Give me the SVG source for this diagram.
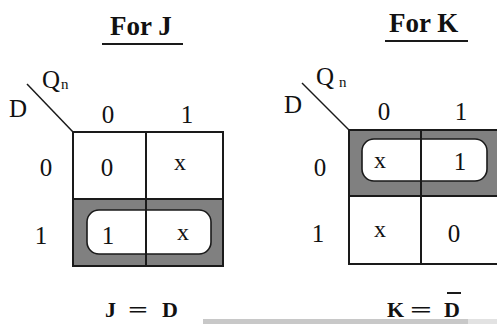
<svg xmlns="http://www.w3.org/2000/svg" width="497" height="324" viewBox="0 0 497 324">
<style>
text{font-family:"Liberation Serif","Times New Roman",serif;fill:#111;}
.lbl{font-size:25px;text-anchor:middle;}
.sm{font-size:24px;text-anchor:middle;}
.sub{font-size:15px;}
.ttl{font-size:27px;font-weight:bold;}
.eq{font-size:22px;font-weight:bold;}
.grid{stroke:#1a1a1a;stroke-width:2;fill:none;}
.shade{fill:#808080;}
.loop{fill:#fff;stroke:#1a1a1a;stroke-width:1.6;}
.ul{stroke:#1a1a1a;stroke-width:2;}
.diag{stroke:#1a1a1a;stroke-width:1.5;}
</style>
<rect width="497" height="324" fill="#fff"/>
<g id="title-j">
<text class="ttl" x="110" y="35">For J</text>
<line class="ul" x1="102" y1="44" x2="183" y2="44"/>
</g>
<g id="title-k">
<text class="ttl" x="389" y="32">For K</text>
<line class="ul" x1="385" y1="41" x2="468" y2="41"/>
</g>
<g id="map-j">
<rect class="shade" x="73" y="199" width="150" height="67"/>
<rect class="loop" x="87" y="210" width="124" height="44" rx="12"/>
<rect class="grid" x="73" y="132" width="150" height="134"/>
<line class="grid" x1="73" y1="199" x2="223" y2="199"/>
<line class="grid" x1="146" y1="132" x2="146" y2="266"/>
<text x="42" y="88" style="font-size:25px">Q</text>
<text class="sub" x="61" y="89">n</text>
<text x="9" y="117" style="font-size:25px">D</text>
<text class="lbl" x="108" y="123">0</text>
<text class="lbl" x="187" y="123">1</text>
<text class="lbl" x="46" y="176">0</text>
<text class="lbl" x="41" y="244">1</text>
<text class="lbl" x="107" y="176">0</text>
<text class="sm" x="180" y="170">x</text>
<text class="lbl" x="108" y="244">1</text>
<text class="sm" x="183" y="240">x</text>
</g>
<g id="map-k">
<rect class="shade" x="349" y="130" width="150" height="66"/>
<rect class="loop" x="362" y="139" width="125" height="42" rx="12"/>
<rect class="grid" x="349" y="130" width="152" height="134"/>
<line class="grid" x1="349" y1="196" x2="499" y2="196"/>
<line class="grid" x1="421" y1="130" x2="421" y2="264"/>
<text x="316" y="85" style="font-size:25px">Q</text>
<text class="sub" x="339" y="87">n</text>
<text x="284" y="113" style="font-size:25px">D</text>
<text class="lbl" x="384" y="120">0</text>
<text class="lbl" x="461" y="120">1</text>
<text class="lbl" x="320" y="176">0</text>
<text class="lbl" x="318" y="242">1</text>
<text class="sm" x="380" y="168">x</text>
<text class="lbl" x="460" y="170">1</text>
<text class="sm" x="380" y="237">x</text>
<text class="lbl" x="454" y="242">0</text>
</g>
<g id="connectors">
<line class="diag" x1="27" y1="84" x2="73" y2="132"/>
<line class="diag" x1="302" y1="83" x2="349" y2="130"/>
</g>
<g id="eq-j">
<text class="eq" y="317"><tspan x="105">J</tspan><tspan x="128" textLength="20" lengthAdjust="spacingAndGlyphs">=</tspan><tspan x="162">D</tspan></text>
</g>
<g id="eq-k">
<text class="eq" y="317"><tspan x="387">K</tspan><tspan x="410" textLength="22" lengthAdjust="spacingAndGlyphs">=</tspan><tspan x="444">D</tspan></text>
<line stroke="#1a1a1a" stroke-width="2" x1="447" y1="293" x2="461" y2="293"/>
</g>
<rect x="203" y="319" width="265" height="5" fill="#c8c8c8"/>
<rect x="468" y="319" width="29" height="5" fill="#e2e2e2"/>
</svg>
